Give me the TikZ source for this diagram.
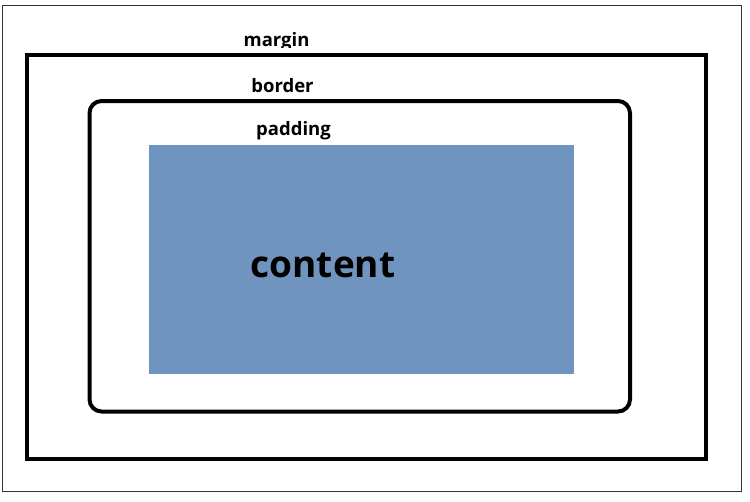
\documentclass[tikz,border=0pt]{standalone}
\usepackage{fontspec}
\setmainfont{Open Sans}
\begin{document}
\begin{tikzpicture}[x=1pt,y=-1pt,
  lbl/.style={anchor=base,inner sep=0pt,font=\bfseries\fontsize{18.5}{21}\selectfont},
  thick box/.style={draw=black,line width=4pt}]
\useasboundingbox (0,0) rectangle (750,501);
\fill[white] (0,0) rectangle (750,501);
\draw[line width=1pt,draw=black!80] (2.5,5.5) rectangle (741,491);
\draw[thick box] (26.5,55) rectangle (706,458.5);
\draw[thick box,rounded corners=12pt] (89.5,101) rectangle (630,411.5);
\fill[fill={rgb,255:red,112;green,148;blue,192}] (149,145) rectangle (574,374);
\begin{scope}
\clip (0,0) rectangle (750,47.5);
\node[lbl] (margin) at (276.5,46.5) {margin};
\end{scope}
\node[lbl] (border) at (282.5,92.5) {border};
\node[lbl] (padding) at (293.5,135) {padding};
\node[lbl,font=\bfseries\fontsize{37}{40}\selectfont] (content) at (323,277) {content};
\end{tikzpicture}
\end{document}
